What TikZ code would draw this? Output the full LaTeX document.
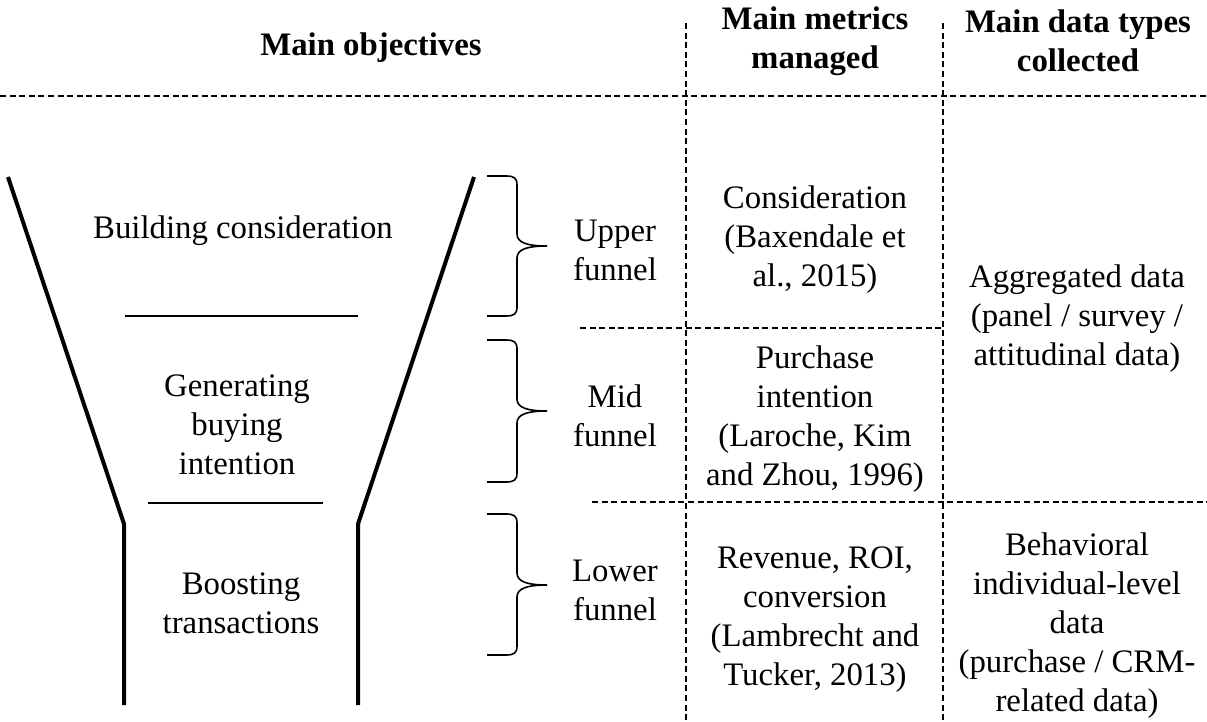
\documentclass[tikz,border=0pt]{standalone}
\usepackage{fontspec}
\setmainfont{Liberation Serif}
\begin{document}
\begin{tikzpicture}[x=0.5pt,y=-0.5pt,
  txt/.style={align=center,inner sep=0pt,font=\fontsize{16.4pt}{19.5pt}\selectfont},
  hdr/.style={txt,font=\fontsize{16.4pt}{19.5pt}\selectfont\bfseries},
  grid/.style={dash pattern=on 3pt off 1.8pt,line width=0.7pt},
  funnel/.style={line width=2pt},
  sep/.style={line width=0.75pt},
  bracestyle/.style={line width=0.8pt}]
\useasboundingbox (0,0) rectangle (1207,722);
% headers
\node[hdr] (hobj) at (371,48) {Main objectives};
\node[hdr] (hmet) at (815,41) {Main metrics\\managed};
\node[hdr] (hdat) at (1078,41) {Main data types\\collected};
% grid
\draw[grid] (0,96) -- (1207,96);
\draw[grid] (686,23) -- (686,722);
\draw[grid] (943,23) -- (943,722);
\draw[grid] (580,328) -- (943,328);
\draw[grid] (592,502) -- (1207,502);
% funnel
\draw[funnel] (8,177) -- (124,524) -- (124,705);
\draw[funnel] (474,177) -- (358,524) -- (358,705);
\draw[sep] (125,316) -- (358,316);
\draw[sep] (148,503) -- (323,503);
\node[txt] (s1) at (243,231) {Building consideration};
\node[txt] (s2) at (237,425) {Generating\\buying\\intention};
\node[txt] (s3) at (241,603) {Boosting\\transactions};
% braces
\foreach \yt/\ym/\yb in {176/246/316, 340/411/482, 514/585/655}{
  \draw[bracestyle] (487,\yt) -- (506,\yt) .. controls (514,\yt) and (517,\yt+2) .. (517,\yt+9)
    -- (517,\ym-12) .. controls (517,\ym-3) and (528,\ym) .. (547,\ym)
    .. controls (528,\ym) and (517,\ym+3) .. (517,\ym+12)
    -- (517,\yb-9) .. controls (517,\yb-2) and (514,\yb) .. (506,\yb) -- (487,\yb);
}
\node[txt] (f1) at (615,250) {Upper\\funnel};
\node[txt] (f2) at (615,416) {Mid\\funnel};
\node[txt] (f3) at (615,590) {Lower\\funnel};
% metrics
\node[txt] (m1) at (815,240) {Consideration\\(Baxendale et\\al., 2015)};
\node[txt] (m2) at (815,419) {Purchase\\intention\\(Laroche, Kim\\and Zhou, 1996)};
\node[txt] (m3) at (815,620) {Revenue, ROI,\\conversion\\(Lambrecht and\\Tucker, 2013)};
% data
\node[txt] (d1) at (1077,319) {Aggregated data\\(panel / survey /\\attitudinal data)};
\node[txt] (d2) at (1077,626) {Behavioral\\individual-level\\data\\(purchase / CRM-\\related data)};
\end{tikzpicture}
\end{document}
